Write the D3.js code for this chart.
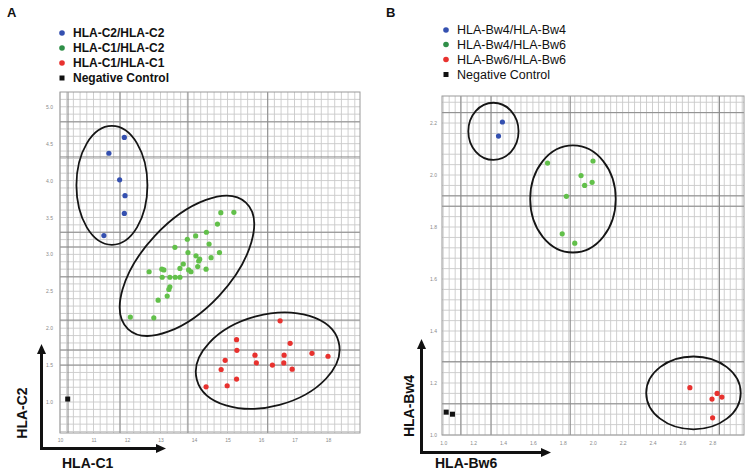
<!DOCTYPE html>
<html><head><meta charset="utf-8">
<script src="https://cdn.jsdelivr.net/npm/d3@7"></script>
<style>body{margin:0;background:#fff}svg{display:block}</style>
</head><body>
<svg id="c" width="751" height="475"></svg>
<script>
// ---------- Panel A data ----------
const legendA = ["HLA-C2/HLA-C2","HLA-C1/HLA-C2","HLA-C1/HLA-C1","Negative Control"];
const aXTickLabels = ["10","11","12","13","14","15","16","17","18"];
const aYTickLabels = ["1.0","1.5","2.0","2.5","3.0","3.5","4.0","4.5","5.0"];
const aBlue = [[1.92,7.17],[1.46,6.74],[1.78,6.02],[1.94,5.59],[1.92,5.11],[1.31,4.51]];
const aGreen = [[4.80,5.13],[5.19,5.14],[4.70,4.82],[4.37,4.60],[4.05,4.50],[3.80,4.41],[4.45,4.28],
  [3.43,4.19],[3.82,4.05],[4.76,4.05],[4.06,3.96],[4.51,3.91],[4.17,3.87],[4.14,3.82],[3.68,3.74],
  [4.11,3.67],[3.58,3.62],[3.04,3.60],[3.10,3.58],[3.84,3.58],[3.91,3.53],[4.36,3.60],[2.66,3.53],
  [3.05,3.38],[3.28,3.38],[3.44,3.38],[3.58,3.38],[3.28,3.12],[3.25,3.05],[3.20,2.87],[2.93,2.76],
  [2.10,2.30],[2.80,2.28]];
const aRed = [[6.57,2.20],[5.27,1.69],[6.87,1.59],[5.28,1.40],[5.82,1.27],[6.69,1.27],[7.52,1.32],
  [8.00,1.24],[4.93,1.13],[5.86,1.06],[6.68,1.06],[6.34,1.00],[4.81,0.88],[6.93,0.89],[5.27,0.62],
  [4.99,0.44],[4.36,0.41]];
const aNeg = [[0.23,0.08]];
const aEllipses = [
  {cx:1.55, cy:5.87, rx:1.06, ry:1.61, angle:0},
  {cx:3.79, cy:3.69, rx:2.58, ry:1.19, angle:-47},
  {cx:6.20, cy:1.12, rx:2.19, ry:1.24, angle:-15}
];
const aMajorX = [0.24,1.79,3.82,6.2];
const aMajorY = [1.0,1.41,2.22,3.39,4.2,4.6,6.64,7.59];

// ---------- Panel B data ----------
const legendB = ["HLA-Bw4/HLA-Bw4","HLA-Bw4/HLA-Bw6","HLA-Bw6/HLA-Bw6","Negative Control"];
const bXTickLabels = ["1.0","1.2","1.4","1.6","1.8","2.0","2.2","2.4","2.6","2.8"];
const bYTickLabels = ["1.0","1.2","1.4","1.6","1.8","2.0","2.2"];
const bBlue = [[1.98,6.02],[1.85,5.75]];
const bGreen = [[3.49,5.23],[5.01,5.27],[4.61,4.99],[4.98,4.86],[4.73,4.80],[4.12,4.59],[3.98,3.87],[4.40,3.69]];
const bRed = [[8.25,0.91],[9.16,0.80],[9.32,0.73],[8.99,0.69],[9.01,0.33]];
const bNeg = [[0.10,0.44],[0.31,0.40]];
const bEllipses = [
  {cx:1.68, cy:5.84, rx:0.84, ry:0.55, angle:0},
  {cx:4.34, cy:4.54, rx:1.43, ry:1.03, angle:0},
  {cx:8.37, cy:0.81, rx:1.58, ry:0.70, angle:0}
];
const bMajorX = [0.59,1.6,4.25,9.24];
const bMajorY = [0.6,1.41,4.4,4.6,6.2];

// ---------- colours ----------
const colBlue = "#3450b0", colGreen = "#62c04a", colRed = "#e8322f";
const legColors = ["#3450b0","#2f8f48","#e8322f","#111"];

const svg = d3.select("#c");

function panel(o){
  const g = svg.append("g");
  const x = d3.scaleLinear().domain(o.xd).range([o.L,o.R]);
  const y = d3.scaleLinear().domain(o.yd).range([o.B,o.T]);
  // minor grid
  const gx = d3.range(Math.ceil(o.xd[0]*5)/5, o.xd[1], 0.2);
  const gy = d3.range(Math.ceil(o.yd[0]*5)/5, o.yd[1], 0.2);
  g.append("g").selectAll("line").data(gx).join("line")
    .attr("x1",d=>x(d)).attr("x2",d=>x(d)).attr("y1",o.T).attr("y2",o.B)
    .attr("stroke","#c9c9c9").attr("stroke-width",0.9);
  g.append("g").selectAll("line").data(gy).join("line")
    .attr("y1",d=>y(d)).attr("y2",d=>y(d)).attr("x1",o.L).attr("x2",o.R)
    .attr("stroke","#c9c9c9").attr("stroke-width",0.9);
  // major grid
  g.append("g").selectAll("line").data(o.majX).join("line")
    .attr("x1",d=>x(d)).attr("x2",d=>x(d)).attr("y1",o.T).attr("y2",o.B)
    .attr("stroke","#8a8a8a").attr("stroke-width",1);
  g.append("g").selectAll("line").data(o.majY).join("line")
    .attr("y1",d=>y(d)).attr("y2",d=>y(d)).attr("x1",o.L).attr("x2",o.R)
    .attr("stroke","#8a8a8a").attr("stroke-width",1);
  // frame
  g.append("rect").attr("x",o.L).attr("y",o.T).attr("width",o.R-o.L).attr("height",o.B-o.T)
    .attr("fill","none").attr("stroke","#9a9a9a").attr("stroke-width",1);
  // axes (tick labels)
  const ax = d3.axisBottom(x).tickValues(d3.range(o.xl.length)).tickFormat((d,i)=>o.xl[i]).tickSize(0).tickPadding(0);
  const axg = g.append("g").attr("transform",`translate(0,${o.xLabY})`).call(ax);
  const ay = d3.axisLeft(y).tickValues(d3.range(o.yl.length)).tickFormat((d,i)=>o.yl[i]).tickSize(0).tickPadding(0);
  const ayg = g.append("g").attr("transform",`translate(${o.yLabX},0)`).call(ay);
  [axg,ayg].forEach(a=>{a.select(".domain").remove();
    a.selectAll("text").attr("fill","#8a8a8a").style("font-size","5px").style("font-family","Liberation Sans, Arial, sans-serif");});
  // ellipses
  const kx = x(1)-x(0), ky = y(0)-y(1);
  g.append("g").selectAll("ellipse").data(o.ell).join("ellipse")
    .attr("cx",d=>x(d.cx)).attr("cy",d=>y(d.cy)).attr("rx",d=>d.rx*kx).attr("ry",d=>d.ry*ky)
    .attr("transform",d=>`rotate(${d.angle},${x(d.cx)},${y(d.cy)})`)
    .attr("fill","none").attr("stroke","#151515").attr("stroke-width",1.8);
  // points
  [[o.blue,colBlue],[o.green,colGreen],[o.red,colRed]].forEach(([data,c])=>{
    g.append("g").selectAll("circle").data(data).join("circle")
      .attr("cx",d=>x(d[0])).attr("cy",d=>y(d[1])).attr("r",2.6).attr("fill",c);
  });
  g.append("g").selectAll("rect").data(o.neg).join("rect")
    .attr("x",d=>x(d[0])-2.5).attr("y",d=>y(d[1])-2.5).attr("width",5).attr("height",5).attr("fill","#111");
  // arrows
  const a = o.arrow;
  g.append("path").attr("d",`M${a.x},${a.y0}V${a.yTip+8}`).attr("stroke","#111").attr("stroke-width",3).attr("fill","none");
  g.append("path").attr("d",`M${a.x-1.5},${a.y0}H${a.xTip-8}`).attr("stroke","#111").attr("stroke-width",3).attr("fill","none");
  g.append("path").attr("d",`M${a.x},${a.yTip}l-4.5,10h9z`).attr("fill","#111");
  g.append("path").attr("d",`M${a.xTip},${a.y0}l-10,-4.5v9z`).attr("fill","#111");
  // axis titles
  g.append("text").attr("x",o.xt[0]).attr("y",o.xt[1]).text(o.xTitle)
    .style("font","bold 14px 'Liberation Sans', Arial, sans-serif").attr("fill","#111");
  g.append("text").attr("transform",`translate(${o.yt[0]},${o.yt[1]}) rotate(-90)`).attr("text-anchor","middle").text(o.yTitle)
    .style("font","bold 14px 'Liberation Sans', Arial, sans-serif").attr("fill","#111");
  // panel letter
  g.append("text").attr("x",o.letter[0]).attr("y",o.letter[1]).text(o.letter[2])
    .style("font","bold 13px 'Liberation Sans', Arial, sans-serif").attr("fill","#111");
  // legend
  const lg = g.append("g");
  o.legend.forEach((t,i)=>{
    const yy = o.legY[i];
    if(i<3) lg.append("circle").attr("cx",o.legX).attr("cy",yy).attr("r",2.8).attr("fill",legColors[i]);
    else lg.append("rect").attr("x",o.legX-2.5).attr("y",yy-2.5).attr("width",5).attr("height",5).attr("fill","#111");
    lg.append("text").attr("x",o.legX+11).attr("y",yy+4.3).text(t)
      .style("font",`${o.legW} ${o.legFS}px 'Liberation Sans', Arial, sans-serif`).attr("fill","#111");
  });
}

panel({L:60,R:360,T:92,B:433,xd:[0,8.955],yd:[-0.84,8.4],
  majX:aMajorX,majY:aMajorY,xl:aXTickLabels,yl:aYTickLabels,xLabY:438,yLabX:53,
  ell:aEllipses,blue:aBlue,green:aGreen,red:aRed,neg:aNeg,
  arrow:{x:41.5,y0:448.5,yTip:344,xTip:166},
  xTitle:"HLA-C1",xt:[62,468],yTitle:"HLA-C2",yt:[27,413],
  letter:[7,17,"A"],legend:legendA,legX:62,legY:[33,48,63,78],legW:"bold",legFS:12});

panel({L:442,R:744,T:96,B:435,xd:[-0.04,10.06],yd:[0,6.52],
  majX:bMajorX,majY:bMajorY,xl:bXTickLabels,yl:bYTickLabels,xLabY:441,yLabX:437,
  ell:bEllipses,blue:bBlue,green:bGreen,red:bRed,neg:bNeg,
  arrow:{x:421.5,y0:452.5,yTip:339,xTip:551},
  xTitle:"HLA-Bw6",xt:[435,468],yTitle:"HLA-Bw4",yt:[414,406],
  letter:[386,17,"B"],legend:legendB,legX:446,legY:[30,44.5,59.5,74.5],legW:"normal",legFS:12.5});
</script>
</body></html>
